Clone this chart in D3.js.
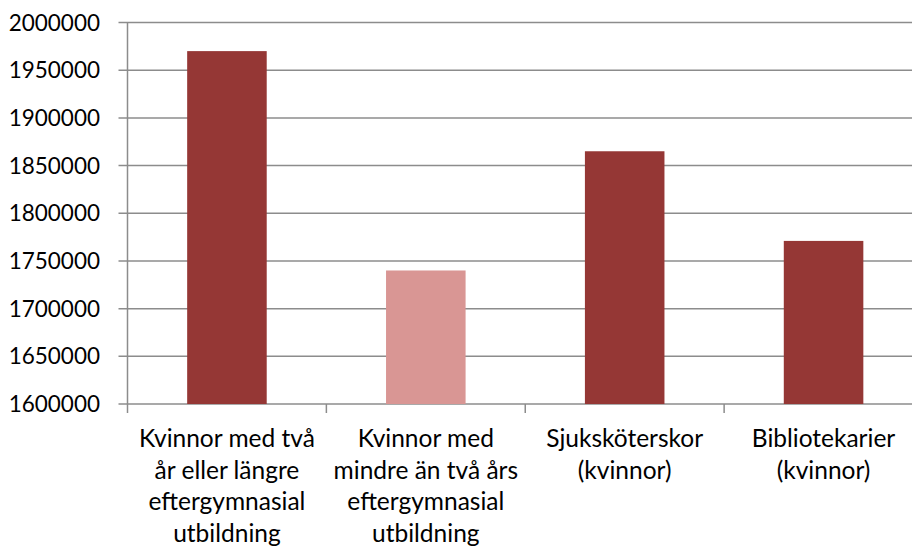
<!DOCTYPE html>
<html>
<head>
<meta charset="utf-8">
<script src="https://cdn.jsdelivr.net/npm/d3@7"></script>
<style>
  body { margin: 0; background: #fff; }
  svg text { font-family: Lato, "Open Sans", sans-serif; fill: #000; }
</style>
</head>
<body>
<div id="chart"></div>
<script>
// Data
const categories = [
  ['Kvinnor med två', 'år eller längre', 'eftergymnasial', 'utbildning'],
  ['Kvinnor med', 'mindre än två års', 'eftergymnasial', 'utbildning'],
  ['Sjuksköterskor', '(kvinnor)'],
  ['Bibliotekarier', '(kvinnor)']
];
const values = [1970000, 1740000, 1865000, 1771000];
const barColors = ['#953735', '#D99694', '#953735', '#953735'];
const yTicks = [1600000, 1650000, 1700000, 1750000, 1800000, 1850000, 1900000, 1950000, 2000000];

const W = 912, H = 549;
const mLeft = 127.5, mRight = 923, mTop = 22.5, mBottom = 404;

const svg = d3.select('#chart').append('svg')
  .attr('width', W).attr('height', H);

const x = d3.scaleBand()
  .domain(d3.range(categories.length))
  .range([mLeft, mRight])
  .paddingInner(0.6).paddingOuter(0.3);

const y = d3.scaleLinear()
  .domain([1600000, 2000000])
  .range([mBottom, mTop]);

// Gridlines
svg.append('g').selectAll('line')
  .data(yTicks).join('line')
  .attr('x1', mLeft - 9).attr('x2', mRight)
  .attr('y1', d => y(d)).attr('y2', d => y(d))
  .attr('stroke', '#8c8c8c').attr('stroke-width', 1.5);

// Bars
svg.append('g').selectAll('rect')
  .data(values).join('rect')
  .attr('x', (d, i) => x(i))
  .attr('width', x.bandwidth())
  .attr('y', d => y(d))
  .attr('height', d => mBottom - y(d))
  .attr('fill', (d, i) => barColors[i]);

// Y axis line
svg.append('line')
  .attr('x1', mLeft).attr('x2', mLeft)
  .attr('y1', mTop).attr('y2', mBottom)
  .attr('stroke', '#8c8c8c').attr('stroke-width', 1.5);

// Category ticks
const step = (mRight - mLeft) / categories.length;
svg.append('g').selectAll('line')
  .data(d3.range(categories.length + 1)).join('line')
  .attr('x1', i => mLeft + i * step).attr('x2', i => mLeft + i * step)
  .attr('y1', mBottom).attr('y2', mBottom + 9)
  .attr('stroke', '#8c8c8c').attr('stroke-width', 1.5);

// Y labels
svg.append('g').selectAll('text')
  .data(yTicks).join('text')
  .attr('x', 100)
  .attr('y', d => y(d) + 8)
  .attr('text-anchor', 'end')
  .style('font-size', '22.5px')
  .text(d => d);

// X labels
const xl = svg.append('g').selectAll('text')
  .data(categories).join('text')
  .attr('text-anchor', 'middle')
  .style('font-size', '24.5px');
xl.selectAll('tspan')
  .data((d, i) => d.map(s => ({ s, i })))
  .join('tspan')
  .attr('x', d => x(d.i) + x.bandwidth() / 2)
  .attr('y', (d, j) => 447 + j * 31.5)
  .text(d => d.s);
</script>
</body>
</html>
